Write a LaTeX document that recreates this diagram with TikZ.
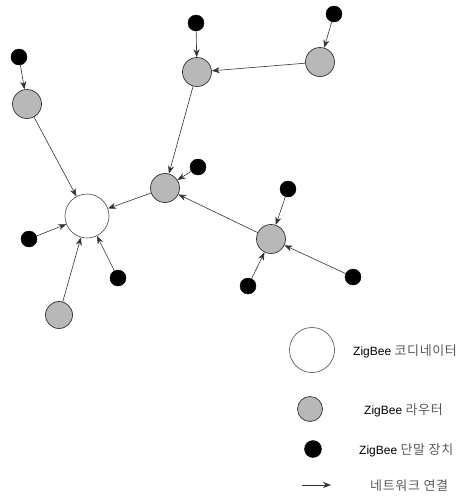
\documentclass[tikz,border=0pt]{standalone}
\usepackage{fontspec}
\setmainfont{Liberation Sans}
\newfontfamily\kr{Noto Sans CJK KR}[LetterSpace=5]
\newcommand{\krtxt}[1]{{\kr\fontsize{13}{14}\selectfont\color{black!65}#1}}
\usetikzlibrary{arrows.meta}
\begin{document}
\begin{tikzpicture}[x=1pt,y=-1pt,
  coord/.style={circle,draw=black!70,line width=0.6pt,fill=white,inner sep=0pt,minimum size=44pt},
  router/.style={circle,draw=black!80,line width=0.7pt,fill=black!28,inner sep=0pt,minimum size=29pt},
  enddev/.style={circle,draw=black,fill=black,inner sep=0pt,minimum size=16pt},
  link/.style={draw=black!80,line width=0.6pt,-{Stealth[length=8pt,width=6pt]}},
  lbl/.style={anchor=west,inner sep=0pt,font=\fontsize{12}{14}\selectfont}]
\useasboundingbox (0,0) rectangle (473,496);

% network nodes
\node[coord]  (C)  at (87,216) {};
\node[router] (R1) at (27,104) {};
\node[enddev] (E1) at (19,57) {};
\node[router] (R2) at (197,72) {};
\node[enddev] (E2) at (196,23) {};
\node[router] (R3) at (320,62) {};
\node[enddev] (E3) at (334,14) {};
\node[router] (R4) at (165,188) {};
\node[enddev] (E4) at (198,167) {};
\node[router] (R5) at (271,239) {};
\node[enddev] (E5) at (288,189) {};
\node[enddev] (E6) at (353,277) {};
\node[enddev] (E7) at (248,286) {};
\node[enddev] (E8) at (29,239) {};
\node[enddev] (E9) at (118,278) {};
\node[router,minimum size=27pt] (R6) at (59,315) {};

% links
\draw[link] (E1) -- (R1);
\draw[link] (R1) -- (C);
\draw[link] (E2) -- (R2);
\draw[link] (R3) -- (R2);
\draw[link] (E3) -- (R3);
\draw[link] (R2) -- (R4);
\draw[link] (E4) -- (R4);
\draw[link] (R4) -- (C);
\draw[link] (R5) -- (R4);
\draw[link] (E5) -- (R5);
\draw[link] (E6) -- (R5);
\draw[link] (E7) -- (R5);
\draw[link] (E8) -- (C);
\draw[link] (E9) -- (C);
\draw[link] (R6) -- (C);

% legend
\node[coord,minimum size=45pt] (LC) at (312,350) {};
\node[router,minimum size=25pt] (LR) at (310,409) {};
\node[enddev,minimum size=17pt] (LE) at (313,449) {};
\coordinate (LA1) at (302,485);
\coordinate (LA2) at (331,485);
\draw[link] (LA1) -- (LA2);

\node[lbl] (T1) at (353,351) {ZigBee \krtxt{코디네이터}};
\node[lbl] (T2) at (364,410) {ZigBee \krtxt{라우터}};
\node[lbl] (T3) at (359,450) {ZigBee \krtxt{단말 장치}};
\node[lbl] (T4) at (370,486) {\krtxt{네트워크 연결}};
\end{tikzpicture}
\end{document}
